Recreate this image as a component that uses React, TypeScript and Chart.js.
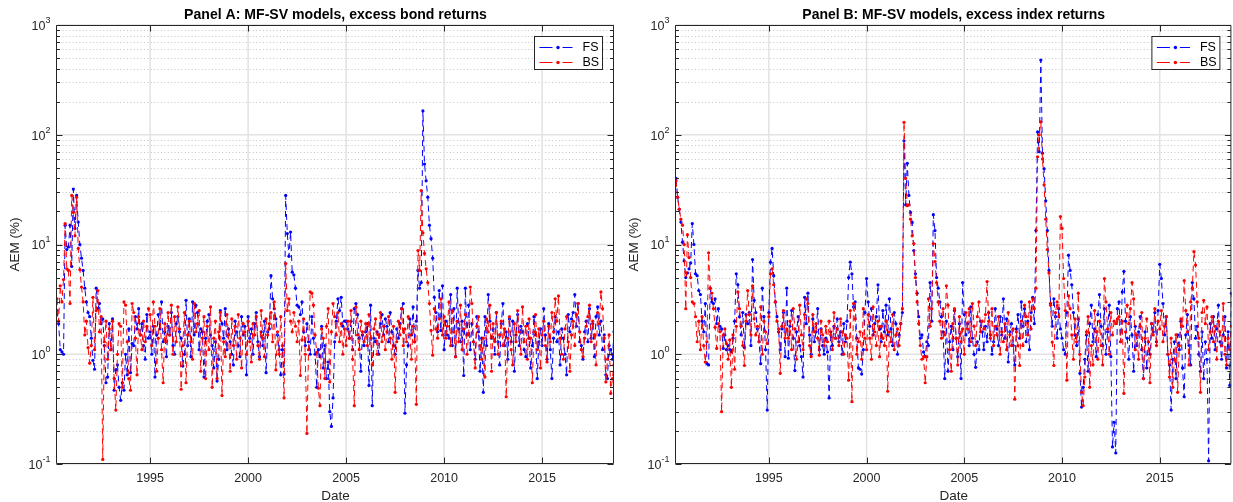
import React, { useEffect, useRef } from 'react';
import { Chart, registerables } from 'chart.js';

Chart.register(...registerables);

// Monthly observations, April 1990 .. September 2018
const START_YEAR = 1990.25;
const X_MIN = 1990.25;
const X_MAX = 1990.25 + 341 / 12;

const xTickValues = [1995, 2000, 2005, 2010, 2015];
const xTickLabels = ['1995', '2000', '2005', '2010', '2015'];
const yDecades = [0.1, 1, 10, 100, 1000];
const yTickBases = ['10', '10', '10', '10', '10'];
const yTickExps = ['-1', '0', '1', '2', '3'];
const seriesNames = ['FS', 'BS'];
const titles = [
  'Panel A: MF-SV models, excess bond returns',
  'Panel B: MF-SV models, excess index returns',
];
const xAxisTitle = 'Date';
const yAxisTitle = 'AEM (%)';

// Panel A: excess bond returns
const bondFS = [
  2.5, 1.9, 1.1, 1.05, 1.0, 15, 9, 9.5, 15,
  6.3, 32, 14, 28, 16, 10, 7.5, 5.8, 4.0, 3.0, 2.4, 2.2,
  1.4, 0.88, 0.73, 4.0, 2.6, 2.9, 1.9, 2.1, 1.2, 0.55, 0.62, 1.9,
  1.1, 2.1, 0.47, 0.72, 0.8, 0.5, 0.38, 0.55, 0.47, 1.0, 0.65, 1.7,
  0.68, 1.25, 1.2, 2.2, 1.7, 2.6, 1.5, 1.9, 1.2, 0.9, 2.3, 1.4,
  1.6, 1.0, 1.8, 0.62, 1.5, 2.3, 1.7, 3.0, 1.3, 1.6, 0.95, 1.8,
  1.5, 2.4, 1.2, 1.0, 1.9, 2.2, 1.6, 1.4, 0.78, 1.0, 3.1, 1.2,
  2.1, 0.95, 3.0, 1.5, 2.8, 2.4, 1.1, 1.7, 1.6, 0.62, 1.4, 2.0,
  2.3, 1.5, 1.2, 0.75, 1.3, 0.57, 0.9, 2.5, 1.9, 1.4, 2.6, 1.1,
  1.7, 1.3, 1.0, 0.8, 2.0, 1.6, 1.2, 0.95, 2.2, 1.5, 1.8, 0.65,
  2.2, 1.4, 1.7, 1.0, 1.9, 2.4, 1.3, 0.95, 1.6, 1.2, 2.0, 0.68,
  1.6, 1.7, 5.2, 3.2, 2.6, 2.1, 1.5, 1.1, 0.65, 1.1, 0.66, 28,
  12.6, 7.8, 13, 5.6, 5.3, 4.0, 2.8, 2.7, 2.3, 3.0, 1.6, 1.2,
  1.9, 1.3, 1.0, 2.2, 1.4, 1.0, 0.5, 1.1, 0.95, 1.8, 0.75, 1.2,
  0.6, 0.85, 0.3, 0.22, 0.4, 1.3, 2.0, 3.2, 2.5, 3.3, 1.8, 2.0,
  2.0, 1.7, 1.4, 2.0, 1.1, 2.6, 2.9, 2.3, 1.4, 0.7, 1.5, 1.2,
  1.6, 1.9, 0.52, 2.8, 0.34, 1.4, 1.3, 1.6, 1.0, 1.9, 2.3, 1.5,
  2.1, 1.8, 1.3, 2.4, 1.6, 1.2, 1.0, 1.7, 1.4, 1.9, 2.6, 2.9,
  0.29, 0.8, 1.2, 2.1, 1.5, 2.7, 1.3, 2.0, 5.8, 4.0, 4.5, 165,
  54, 38, 27, 15, 11.3, 7.5, 3.3, 2.4, 1.6, 3.8, 1.65, 4.2,
  1.1, 2.0, 1.5, 1.4, 3.5, 1.2, 2.6, 0.95, 4.0, 1.7, 1.3, 2.0,
  0.64, 4.0, 1.5, 2.8, 1.1, 1.9, 1.3, 0.9, 2.2, 1.6, 0.7, 1.4,
  0.45, 2.2, 1.2, 3.5, 2.0, 1.4, 1.7, 1.0, 2.4, 1.3, 0.8, 1.9,
  2.9, 1.2, 1.6, 0.9, 2.1, 1.3, 2.0, 0.7, 1.5, 2.3, 1.2, 1.8,
  1.6, 1.1, 0.95, 1.9, 1.4, 0.75, 1.2, 2.2, 1.5, 0.6, 1.3, 1.7,
  1.2, 2.6, 1.5, 0.9, 1.9, 1.1, 0.6, 1.4, 2.2, 1.3, 1.6, 0.8,
  1.7, 1.4, 1.0, 0.65, 2.3, 1.6, 2.1, 2.4, 3.5, 1.8, 2.9, 1.3,
  1.2, 0.9, 1.6, 2.0, 1.3, 2.6, 1.4, 1.9, 0.95, 2.2, 2.7, 1.5,
  2.0, 1.1, 1.5, 0.65, 0.6, 1.2, 1.1, 0.9, 1.6,
];

const bondBS = [
  3.2, 2.0, 4.2, 3.0, 4.8, 15.5, 6.0, 5.8, 2.9,
  28, 19.6, 12, 27, 9.2, 5.9, 4.1, 3.0, 1.5, 2.0, 1.15, 0.83,
  1.2, 3.3, 1.1, 2.5, 3.8, 1.6, 2.2, 0.11, 1.3, 2.0, 0.9, 1.7,
  1.1, 2.0, 0.6, 0.31, 1.0, 1.9, 1.8, 0.5, 3.0, 2.8, 1.3, 0.6,
  0.47, 2.9, 2.4, 1.4, 0.65, 2.2, 1.5, 1.1, 2.0, 1.3, 1.8, 2.6,
  2.3, 1.2, 3.0, 1.8, 0.7, 1.4, 2.6, 1.1, 0.55, 1.9, 1.3, 2.4,
  1.5, 2.8, 1.0, 2.2, 1.3, 2.7, 1.7, 0.48, 1.2, 2.4, 0.55, 1.5,
  2.0, 1.3, 0.9, 2.9, 1.6, 1.9, 2.5, 0.7, 1.4, 2.2, 0.6, 1.8,
  1.1, 2.7, 0.5, 1.4, 2.0, 0.6, 1.6, 2.4, 0.42, 1.3, 0.95, 2.3,
  1.5, 0.7, 2.1, 1.2, 1.8, 0.9, 2.3, 1.4, 0.75, 1.9, 1.6, 1.0,
  2.0, 1.3, 0.85, 1.9, 1.5, 2.2, 1.2, 0.9, 2.5, 1.4, 0.95, 2.1,
  1.5, 1.9, 2.4, 1.3, 3.0, 0.72, 1.6, 1.0, 2.2, 1.2, 0.4, 6.7,
  2.5, 3.2, 2.0, 1.6, 2.4, 1.8, 1.3, 2.0, 0.64, 1.35, 2.1, 1.0,
  0.19, 1.1, 3.7, 3.6, 2.8, 1.5, 1.04, 0.49, 0.34, 1.7, 1.4, 0.6,
  1.8, 2.6, 0.56, 1.6, 2.9, 2.2, 1.5, 2.4, 1.3, 1.9, 1.0, 1.7,
  1.2, 2.0, 1.4, 2.5, 0.9, 0.34, 2.7, 1.5, 1.1, 2.0, 1.6, 1.3,
  1.9, 1.2, 2.3, 1.4, 0.8, 1.7, 2.1, 1.0, 1.5, 2.4, 1.3, 1.8,
  1.1, 1.6, 2.2, 1.4, 0.9, 1.8, 0.45, 1.3, 2.0, 1.5, 2.6, 1.2,
  1.7, 1.3, 2.2, 1.5, 0.9, 1.8, 1.3, 0.35, 8.8, 5.8, 31, 12.8,
  8.3, 6.0, 4.5, 2.9, 1.65, 0.98, 2.6, 1.7, 1.4, 2.1, 3.2, 1.5,
  2.2, 1.4, 1.8, 3.0, 1.2, 2.5, 1.6, 0.95, 2.0, 1.3, 2.8, 1.1,
  1.7, 2.3, 1.0, 1.5, 4.1, 2.9, 1.3, 0.75, 1.8, 2.2, 1.2, 0.9,
  1.4, 0.62, 2.1, 1.6, 2.8, 0.7, 1.9, 1.3, 2.4, 1.0, 1.5, 2.0,
  1.2, 1.7, 0.41, 1.4, 2.2, 1.1, 0.8, 1.9, 1.3, 2.5, 1.6, 1.0,
  2.7, 1.3, 1.8, 0.9, 2.1, 1.4, 0.55, 1.6, 2.3, 1.1, 1.7, 0.75,
  1.5, 2.0, 1.2, 0.85, 1.8, 1.3, 2.4, 1.6, 3.2, 2.0, 3.4, 1.4,
  1.0, 0.9, 1.7, 2.2, 1.3, 0.7, 1.5, 2.0, 1.2, 2.3, 2.9, 1.6,
  1.1, 0.95, 1.4, 1.8, 2.2, 2.8, 1.3, 2.0, 1.5, 0.8, 2.4, 1.9,
  3.7, 2.6, 1.4, 0.56, 0.9, 1.5, 0.44, 0.6, 0.8,
];

// Panel B: excess index returns
const indexFS = [
  40, 27, 21, 16, 10.5, 7.1, 5.0, 5.5, 6.0,
  6.8, 15.5, 10, 5.4, 5.2, 3.8, 3.5, 2.0, 1.6, 2.9, 0.82, 0.8,
  4.0, 3.0, 2.9, 3.2, 1.9, 2.6, 1.8, 1.7, 1.13, 1.5, 1.1, 1.2,
  1.1, 1.05, 1.4, 2.0, 5.4, 4.3, 2.2, 1.5, 2.4, 1.15, 2.3, 1.9,
  2.4, 1.2, 7.3, 3.1, 2.4, 1.7, 1.3, 0.82, 4.0, 2.2, 1.1, 0.31,
  2.4, 6.9, 9.2, 5.2, 3.0, 2.2, 1.6, 1.1, 1.7, 2.4, 0.95, 4.0,
  0.92, 1.8, 2.5, 1.4, 0.71, 1.6, 2.2, 1.2, 0.95, 0.62, 3.3, 1.9,
  3.6, 1.5, 1.0, 2.1, 1.3, 1.6, 2.6, 1.1, 1.7, 1.2, 1.0, 1.4,
  1.05, 0.4, 1.6, 1.2, 1.8, 1.4, 2.1, 1.3, 1.6, 1.0, 1.9, 1.3,
  2.0, 5.0, 6.9, 5.4, 2.7, 3.0, 1.4, 0.75, 0.73, 0.66, 1.1, 2.4,
  4.9, 3.0, 1.8, 2.6, 1.5, 1.9, 2.2, 4.3, 1.7, 1.3, 2.5, 1.6,
  2.8, 1.5, 3.2, 1.7, 1.2, 2.4, 1.9, 1.0, 1.5, 1.9, 2.4, 88,
  23, 55, 28, 19.6, 15.9, 8.8, 5.4, 3.6, 2.2, 1.4, 1.5, 1.05,
  0.95, 1.3, 1.2, 4.5, 2.0, 18.7, 13.4, 5.0, 4.0, 3.0, 2.2, 1.6,
  0.6, 2.0, 0.7, 1.3, 1.8, 1.1, 2.5, 1.4, 0.95, 1.9, 0.6, 4.5,
  2.3, 1.5, 1.9, 1.2, 2.7, 1.4, 1.0, 0.76, 1.3, 1.1, 2.0, 1.6,
  1.1, 1.8, 1.3, 2.4, 1.5, 1.0, 1.3, 2.6, 1.7, 1.2, 2.2, 1.5,
  3.2, 1.4, 2.1, 0.85, 1.6, 1.9, 1.2, 0.8, 1.7, 2.3, 1.4, 3.0,
  1.8, 2.6, 1.3, 2.0, 1.1, 2.4, 3.3, 1.9, 13.4, 106, 70, 480,
  68, 49, 25, 13.4, 5.8, 2.9, 1.8, 3.2, 2.2, 1.4, 2.6, 1.7,
  1.4, 1.1, 1.0, 2.4, 8.0, 5.8, 4.3, 2.4, 1.5, 1.2, 2.1, 0.67,
  0.33, 0.5, 0.9, 1.5, 0.7, 1.9, 2.8, 1.3, 1.7, 0.95, 2.3, 3.5,
  1.8, 1.2, 2.6, 1.0, 1.6, 2.8, 0.95, 0.143, 0.24, 0.126, 2.6, 3.0,
  1.3, 3.7, 5.7, 2.0, 1.4, 0.9, 2.2, 1.5, 0.7, 1.8, 1.2, 1.6,
  2.2, 1.1, 0.6, 1.6, 0.75, 1.3, 1.0, 1.9, 1.6, 2.4, 1.3, 2.5,
  6.6, 4.9, 2.9, 1.5, 2.2, 1.0, 0.8, 0.31, 0.9, 1.3, 0.6, 1.5,
  1.1, 2.0, 0.75, 0.41, 1.5, 2.3, 1.2, 0.8, 4.5, 3.2, 1.4, 1.8,
  1.0, 0.7, 1.6, 0.6, 1.3, 0.9, 0.107, 1.9, 1.4, 2.2, 1.1, 1.7,
  2.8, 1.3, 0.9, 1.5, 2.2, 0.75, 1.6, 0.52, 3.6,
];

const indexBS = [
  38, 27, 21, 17, 15, 10, 2.6, 12.3, 7.6,
  5.0, 3.0, 2.9, 2.2, 1.3, 2.0, 1.1, 2.2, 1.2, 0.85, 1.3, 8.4,
  4.0, 3.6, 2.6, 1.76, 1.13, 1.9, 1.6, 0.30, 1.5, 1.7, 1.25, 0.9,
  1.35, 0.5, 1.5, 0.73, 1.8, 3.7, 2.6, 1.8, 1.2, 0.79, 2.0, 3.8,
  2.3, 1.5, 4.2, 2.1, 1.5, 1.8, 1.3, 2.7, 1.0, 2.0, 1.6, 1.25,
  2.2, 5.4, 6.0, 4.3, 3.0, 2.0, 1.7, 0.67, 1.8, 2.5, 1.4, 1.7,
  1.4, 2.0, 1.1, 2.6, 1.7, 0.9, 1.3, 2.8, 1.5, 1.1, 2.3, 3.2,
  2.9, 1.2, 0.95, 2.3, 1.6, 1.9, 1.4, 0.98, 2.0, 1.5, 1.2, 1.8,
  1.3, 2.0, 1.5, 1.1, 2.4, 1.4, 1.7, 1.2, 2.1, 1.6, 1.0, 1.5,
  1.4, 0.58, 2.5, 0.37, 2.9, 2.1, 1.0, 1.3, 1.6, 0.9, 2.6, 1.4,
  1.1, 2.3, 1.4, 0.9, 2.7, 1.6, 1.2, 2.0, 0.95, 1.8, 1.4, 1.2,
  2.0, 0.46, 1.6, 1.3, 2.3, 1.1, 1.5, 1.7, 1.2, 1.9, 2.6, 130,
  40, 22.6, 23, 17, 12, 10.2, 5.0, 3.0, 1.9, 1.2, 0.9, 0.95,
  0.55, 0.95, 3.2, 1.8, 2.6, 10.2, 7.0, 4.5, 3.0, 2.0, 1.4, 2.6,
  1.5, 4.2, 2.8, 1.1, 0.7, 1.9, 2.6, 1.4, 0.8, 2.2, 1.3, 1.7,
  1.0, 2.4, 1.7, 2.6, 1.3, 2.9, 1.8, 1.2, 2.2, 3.0, 1.6, 2.0,
  1.7, 2.3, 4.6, 2.0, 1.4, 2.6, 1.2, 1.8, 1.5, 2.2, 1.0, 1.6,
  1.3, 1.9, 1.1, 2.4, 1.5, 1.2, 1.7, 0.39, 1.6, 1.2, 0.79, 2.0,
  1.2, 2.8, 2.2, 1.5, 3.0, 1.7, 3.2, 2.6, 4.0, 63, 100, 131,
  60, 35, 17, 9.0, 5.5, 2.8, 1.29, 0.79, 2.4, 3.0, 2.2, 18,
  14, 4.9, 2.5, 0.58, 3.4, 2.6, 1.5, 0.9, 2.1, 1.3, 3.6, 1.0,
  0.45, 0.34, 0.62, 1.6, 2.2, 0.5, 1.2, 0.8, 2.5, 1.6, 0.9, 2.0,
  1.2, 0.8, 4.9, 3.0, 1.7, 1.0, 2.4, 1.5, 2.0, 1.9, 2.1, 2.2,
  1.3, 2.0, 0.44, 1.6, 2.8, 1.9, 2.6, 4.5, 3.2, 1.1, 1.5, 0.9,
  1.8, 2.4, 0.6, 1.4, 2.1, 1.3, 0.55, 1.9, 1.5, 2.6, 1.2, 2.0,
  1.7, 2.5, 1.3, 1.8, 2.2, 1.0, 0.62, 1.4, 0.5, 0.9, 1.5, 0.45,
  1.2, 2.1, 1.8, 4.7, 2.5, 1.6, 0.8, 3.0, 4.0, 8.6, 6.5, 3.0,
  1.4, 0.45, 2.4, 3.1, 1.9, 2.7, 1.1, 1.6, 2.2, 1.3, 1.8, 0.9,
  2.0, 1.6, 1.2, 2.9, 1.0, 0.8, 1.4, 1.1, 1.8,
];

const HEIGHT = 502;
const PLOT_TOP = 25;
const PLOT_BOTTOM = 464;
const FONT = '"Liberation Sans", Arial, Helvetica, sans-serif';
const AXIS_COLOR = '#262626';
const FS_COLOR = '#0000ff';
const BS_COLOR = '#ff0000';

function toPoints(values: number[]) {
  return values.map((v, i) => ({ x: START_YEAR + i / 12, y: v }));
}

function makePlugin(title: string) {
  return {
    id: 'matlabAxes',
    beforeDatasetsDraw(chart: any) {
      const { ctx, chartArea: a, scales } = chart;
      const y = scales.y;
      const x = scales.x;
      ctx.save();
      // minor dotted grid
      ctx.strokeStyle = '#c4c4c4';
      ctx.lineWidth = 1;
      ctx.setLineDash([1, 2.4]);
      for (let d = 0; d < yDecades.length - 1; d++) {
        for (let k = 2; k <= 9; k++) {
          const py = Math.round(y.getPixelForValue(yDecades[d] * k)) + 0.5;
          ctx.beginPath();
          ctx.moveTo(a.left + 2, py);
          ctx.lineTo(a.right, py);
          ctx.stroke();
        }
      }
      // major grid
      ctx.setLineDash([]);
      ctx.strokeStyle = '#e2e2e2';
      ctx.lineWidth = 1.5;
      for (const v of yDecades) {
        const py = y.getPixelForValue(v);
        ctx.beginPath();
        ctx.moveTo(a.left, py);
        ctx.lineTo(a.right, py);
        ctx.stroke();
      }
      for (const v of xTickValues) {
        const px = x.getPixelForValue(v);
        ctx.beginPath();
        ctx.moveTo(px, a.top);
        ctx.lineTo(px, a.bottom);
        ctx.stroke();
      }
      ctx.restore();
    },
    afterDraw(chart: any) {
      const { ctx, chartArea: a, scales } = chart;
      const y = scales.y;
      const x = scales.x;
      ctx.save();
      // box
      ctx.strokeStyle = AXIS_COLOR;
      ctx.lineWidth = 1;
      ctx.setLineDash([]);
      const L = a.left - 0.5;
      const R = a.right - 0.5;
      const T = a.top + 0.5;
      const B = a.bottom - 0.5;
      ctx.beginPath();
      ctx.moveTo(L, T);
      ctx.lineTo(R, T);
      ctx.lineTo(R, B);
      ctx.lineTo(L, B);
      ctx.closePath();
      ctx.stroke();
      // y ticks
      ctx.beginPath();
      for (let d = 0; d < yDecades.length; d++) {
        const py = Math.round(y.getPixelForValue(yDecades[d])) + 0.5;
        ctx.moveTo(L, py); ctx.lineTo(L + 6, py);
        ctx.moveTo(R, py); ctx.lineTo(R - 6, py);
        if (d < yDecades.length - 1) {
          for (let k = 2; k <= 9; k++) {
            const pm = Math.round(y.getPixelForValue(yDecades[d] * k)) + 0.5;
            ctx.moveTo(L, pm); ctx.lineTo(L + 3.5, pm);
            ctx.moveTo(R, pm); ctx.lineTo(R - 3.5, pm);
          }
        }
      }
      for (const v of xTickValues) {
        const px = Math.round(x.getPixelForValue(v)) + 0.5;
        ctx.moveTo(px, B); ctx.lineTo(px, B - 6);
        ctx.moveTo(px, T); ctx.lineTo(px, T + 6);
      }
      ctx.stroke();

      // tick labels
      ctx.fillStyle = AXIS_COLOR;
      const big = `12.5px ${FONT}`;
      const small = `9px ${FONT}`;
      ctx.textBaseline = 'middle';
      ctx.textAlign = 'left';
      for (let d = 0; d < yDecades.length; d++) {
        const py = y.getPixelForValue(yDecades[d]);
        ctx.font = small;
        const ew = ctx.measureText(yTickExps[d]).width;
        ctx.font = big;
        const bw = ctx.measureText(yTickBases[d]).width;
        const right = a.left - 6.5;
        ctx.fillText(yTickBases[d], right - ew - bw, py + 1.5);
        ctx.font = small;
        ctx.fillText(yTickExps[d], right - ew, py - 4.5);
      }
      ctx.font = big;
      ctx.textAlign = 'center';
      for (let i = 0; i < xTickValues.length; i++) {
        ctx.fillText(xTickLabels[i], x.getPixelForValue(xTickValues[i]), 479);
      }
      // axis titles
      ctx.font = `13.5px ${FONT}`;
      ctx.fillText(xAxisTitle, (a.left + a.right) / 2, 496);
      ctx.save();
      ctx.translate(a.left - 42, (a.top + a.bottom) / 2);
      ctx.rotate(-Math.PI / 2);
      ctx.fillText(yAxisTitle, 0, 0);
      ctx.restore();
      // title, fitted to the reference width
      ctx.fillStyle = '#000000';
      ctx.font = `bold 13px ${FONT}`;
      const tw = ctx.measureText(title).width;
      const size = 13 * 303 / tw;
      ctx.font = `bold ${size.toFixed(2)}px ${FONT}`;
      ctx.fillText(title, (a.left + a.right) / 2, 15);

      // legend
      const bx = a.right - 79.5;
      const by = a.top + 11.5;
      const bw = 68;
      const bh = 33;
      ctx.fillStyle = '#ffffff';
      ctx.fillRect(bx, by, bw, bh);
      ctx.strokeStyle = AXIS_COLOR;
      ctx.lineWidth = 1;
      ctx.strokeRect(bx, by, bw, bh);
      const colors = [FS_COLOR, BS_COLOR];
      for (let i = 0; i < seriesNames.length; i++) {
        const ly = Math.round(by + 10 + i * 15) + 0.5;
        ctx.strokeStyle = colors[i];
        ctx.fillStyle = colors[i];
        ctx.beginPath();
        ctx.moveTo(bx + 5, ly); ctx.lineTo(bx + 18, ly);
        ctx.moveTo(bx + 28, ly); ctx.lineTo(bx + 38, ly);
        ctx.stroke();
        ctx.beginPath();
        ctx.arc(bx + 23.5, ly, 1.7, 0, Math.PI * 2);
        ctx.fill();
        ctx.fillStyle = '#000000';
        ctx.font = `12.5px ${FONT}`;
        ctx.textAlign = 'left';
        ctx.fillText(seriesNames[i], bx + 48, ly + 0.5);
      }
      ctx.restore();
    },
  };
}

function Panel(props: { title: string; fs: number[]; bs: number[]; left: number; width: number; plotLeft: number; plotRight: number }) {
  const ref = useRef<HTMLCanvasElement>(null);
  useEffect(() => {
    const canvas = ref.current;
    if (!canvas) return;
    const { title, fs, bs, width, plotLeft, plotRight } = props;
    const common = {
      borderWidth: 1,
      borderDash: [6, 4],
      pointRadius: 1.6,
      pointHoverRadius: 0,
      pointBorderWidth: 0,
      tension: 0,
      fill: false,
    };
    const chart = new Chart(canvas, {
      type: 'line',
      data: {
        datasets: [
          { ...common, label: seriesNames[0], data: toPoints(fs), borderColor: FS_COLOR, backgroundColor: FS_COLOR, pointBackgroundColor: FS_COLOR, order: 2 },
          { ...common, label: seriesNames[1], data: toPoints(bs), borderColor: BS_COLOR, backgroundColor: BS_COLOR, pointBackgroundColor: BS_COLOR, order: 1 },
        ],
      } as any,
      options: {
        responsive: false,
        animation: false,
        events: [],
        layout: { padding: { left: plotLeft, right: width - plotRight, top: PLOT_TOP, bottom: HEIGHT - PLOT_BOTTOM } },
        scales: {
          x: { type: 'linear', min: X_MIN, max: X_MAX, display: false },
          y: { type: 'logarithmic', min: 0.1, max: 1000, display: false },
        },
        plugins: { legend: { display: false }, title: { display: false }, tooltip: { enabled: false } },
      } as any,
      plugins: [makePlugin(title)],
    });
    return () => chart.destroy();
  }, []);
  return (
    <canvas
      ref={ref}
      width={props.width}
      height={HEIGHT}
      style={{ position: 'absolute', left: props.left, top: 0, width: props.width, height: HEIGHT }}
    />
  );
}

export default function App() {
  return (
    <div style={{ position: 'absolute', left: 0, top: 0, width: 1233, height: HEIGHT, background: '#ffffff' }}>
      <Panel title={titles[0]} fs={bondFS} bs={bondBS} left={0} width={617} plotLeft={57} plotRight={614} />
      <Panel title={titles[1]} fs={indexFS} bs={indexBS} left={617} width={616} plotLeft={59} plotRight={615} />
    </div>
  );
}
